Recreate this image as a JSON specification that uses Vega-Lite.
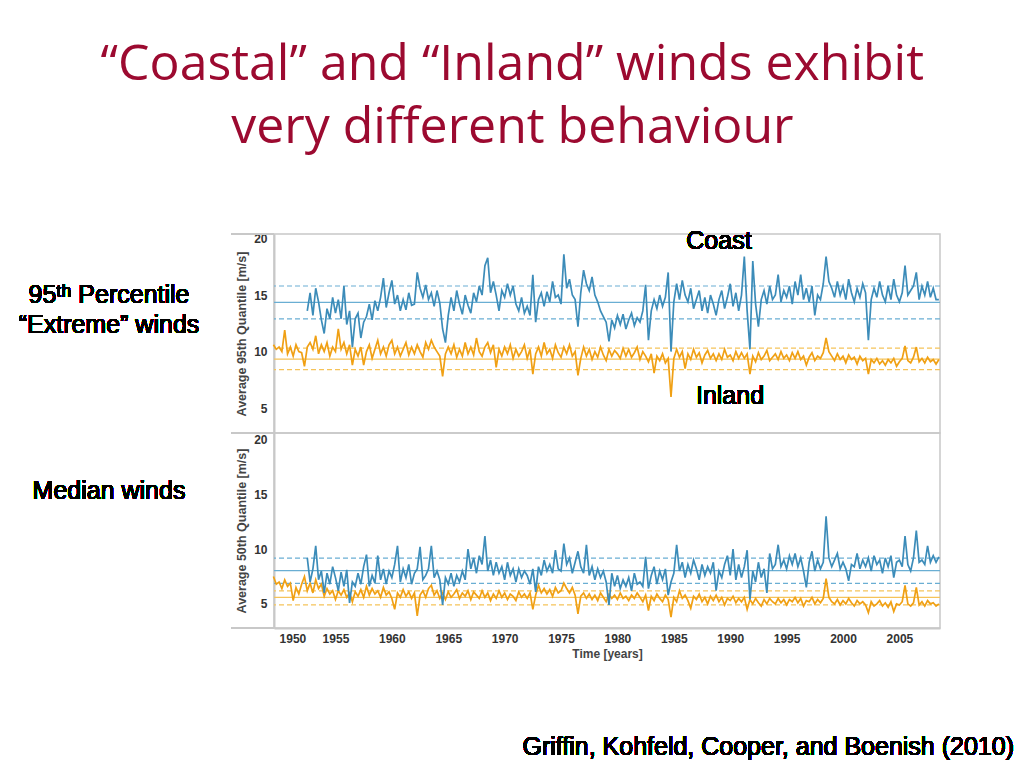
{
"$schema":"https://vega.github.io/schema/vega-lite/v6.json",
"background":"white",
"padding":{"left":17,"top":40,"right":5,"bottom":5},
"title":{"text":["“Coastal” and “Inland” winds exhibit","very different behaviour"],"anchor":"middle","dx":-4,"font":"Open Sans","fontSize":50,"fontWeight":"normal","color":"#9c0a30","lineHeight":63,"offset":75},
"datasets":{
"w":[
{"t":1949.5,"i95":10.6,"i50":7.5},{"t":1949.75,"i95":10.2,"i50":6.8},
{"t":1950,"i95":10.4,"i50":7.0},{"t":1950.25,"i95":10.0,"i50":6.4},{"t":1950.5,"i95":11.9,"i50":7.2},{"t":1950.75,"i95":9.8,"i50":6.6},
{"t":1951,"i95":10.4,"i50":6.9},{"t":1951.25,"i95":9.6,"i50":5.3},{"t":1951.5,"i95":10.6,"i50":6.5},{"t":1951.75,"i95":10.0,"i50":5.9},
{"t":1952,"i95":9.9,"i50":6.8},{"t":1952.25,"i95":8.7,"i50":7.5},
{"t":1952.5,"c95":13.6,"i95":10.4,"c50":9.2,"i50":6.2},{"t":1952.75,"c95":15.2,"i95":10.8,"c50":7.0,"i50":6.9},
{"t":1953,"c95":13.2,"i95":10.2,"c50":8.2,"i50":6.0},{"t":1953.25,"c95":15.6,"i95":11.4,"c50":10.3,"i50":7.2},{"t":1953.5,"c95":14.4,"i95":9.8,"c50":7.2,"i50":6.4},{"t":1953.75,"c95":12.8,"i95":10.6,"c50":8.0,"i50":6.8},
{"t":1954,"c95":11.6,"i95":10.0,"c50":6.0,"i50":5.7},{"t":1954.25,"c95":13.8,"i95":10.8,"c50":7.8,"i50":6.4},{"t":1954.5,"c95":12.9,"i95":9.6,"c50":6.8,"i50":5.9},{"t":1954.75,"c95":14.8,"i95":10.4,"c50":8.4,"i50":6.2},
{"t":1955,"c95":13.4,"i95":10.0,"c50":7.4,"i50":5.4},{"t":1955.25,"c95":14.6,"i95":12.0,"c50":6.2,"i50":6.2},{"t":1955.5,"c95":12.9,"i95":10.2,"c50":7.9,"i50":5.8},{"t":1955.75,"c95":15.8,"i95":10.8,"c50":6.6,"i50":6.3},
{"t":1956,"c95":12.4,"i95":9.8,"c50":8.1,"i50":5.6},{"t":1956.25,"c95":13.6,"i95":10.6,"c50":5.1,"i50":6.0},{"t":1956.5,"c95":10.4,"i95":8.8,"c50":7.0,"i50":5.2},{"t":1956.75,"c95":12.9,"i95":10.2,"c50":6.6,"i50":6.1},
{"t":1957,"c95":13.4,"i95":9.6,"c50":7.8,"i50":5.7},{"t":1957.25,"c95":11.2,"i95":10.4,"c50":6.8,"i50":6.3},{"t":1957.5,"c95":12.6,"i95":8.8,"c50":8.4,"i50":5.6},{"t":1957.75,"c95":13.1,"i95":10.0,"c50":9.5,"i50":6.6},
{"t":1958,"c95":14.2,"i95":10.6,"c50":6.6,"i50":5.8},{"t":1958.25,"c95":12.8,"i95":9.4,"c50":7.6,"i50":6.4},{"t":1958.5,"c95":14.5,"i95":10.2,"c50":6.9,"i50":5.9},{"t":1958.75,"c95":13.6,"i95":11.0,"c50":9.4,"i50":6.2},
{"t":1959,"c95":14.8,"i95":9.8,"c50":7.2,"i50":5.6},{"t":1959.25,"c95":16.5,"i95":10.4,"c50":8.2,"i50":6.5},{"t":1959.5,"c95":13.9,"i95":9.6,"c50":6.8,"i50":5.8},{"t":1959.75,"c95":15.2,"i95":10.6,"c50":8.0,"i50":6.1},
{"t":1960,"c95":16.3,"i95":11.0,"c50":7.4,"i50":5.5},{"t":1960.25,"c95":14.2,"i95":9.8,"c50":8.6,"i50":4.5},{"t":1960.5,"c95":15.0,"i95":10.4,"c50":10.3,"i50":6.0},{"t":1960.75,"c95":13.6,"i95":9.6,"c50":7.0,"i50":5.6},
{"t":1961,"c95":14.6,"i95":10.2,"c50":8.2,"i50":6.3},{"t":1961.25,"c95":13.7,"i95":10.8,"c50":7.4,"i50":5.7},{"t":1961.5,"c95":15.2,"i95":9.7,"c50":8.6,"i50":6.1},{"t":1961.75,"c95":14.1,"i95":10.4,"c50":6.8,"i50":5.5},
{"t":1962,"c95":14.2,"i95":9.8,"c50":7.8,"i50":6.0},{"t":1962.25,"c95":17.0,"i95":10.6,"c50":8.2,"i50":3.9},{"t":1962.5,"c95":15.6,"i95":10.0,"c50":10.2,"i50":5.8},{"t":1962.75,"c95":14.8,"i95":9.5,"c50":7.2,"i50":6.2},
{"t":1963,"c95":15.9,"i95":10.8,"c50":7.6,"i50":5.6},{"t":1963.25,"c95":14.6,"i95":10.2,"c50":8.2,"i50":6.4},{"t":1963.5,"c95":15.2,"i95":11.0,"c50":10.3,"i50":6.7},{"t":1963.75,"c95":14.0,"i95":10.4,"c50":7.4,"i50":5.8},
{"t":1964,"c95":15.4,"i95":10.0,"c50":8.0,"i50":6.2},{"t":1964.25,"c95":14.3,"i95":9.6,"c50":7.2,"i50":5.5},{"t":1964.5,"c95":12.0,"i95":7.8,"c50":4.9,"i50":6.0},{"t":1964.75,"c95":10.8,"i95":9.8,"c50":7.4,"i50":5.4},
{"t":1965,"c95":13.2,"i95":10.4,"c50":6.8,"i50":6.1},{"t":1965.25,"c95":14.8,"i95":9.8,"c50":7.8,"i50":5.6},{"t":1965.5,"c95":13.6,"i95":10.6,"c50":6.6,"i50":5.9},{"t":1965.75,"c95":15.4,"i95":9.5,"c50":7.6,"i50":6.3},
{"t":1966,"c95":14.2,"i95":10.2,"c50":7.0,"i50":5.5},{"t":1966.25,"c95":13.3,"i95":9.6,"c50":8.0,"i50":6.0},{"t":1966.5,"c95":15.0,"i95":10.8,"c50":7.2,"i50":5.7},{"t":1966.75,"c95":14.1,"i95":9.8,"c50":10.0,"i50":6.2},
{"t":1967,"c95":13.4,"i95":10.4,"c50":8.2,"i50":5.4},{"t":1967.25,"c95":15.2,"i95":9.7,"c50":9.2,"i50":6.1},{"t":1967.5,"c95":14.4,"i95":11.2,"c50":7.8,"i50":5.8},{"t":1967.75,"c95":15.8,"i95":10.0,"c50":9.4,"i50":5.5},
{"t":1968,"c95":15.0,"i95":9.6,"c50":8.6,"i50":6.2},{"t":1968.25,"c95":17.6,"i95":10.4,"c50":11.2,"i50":5.6},{"t":1968.5,"c95":18.3,"i95":10.8,"c50":8.0,"i50":6.0},{"t":1968.75,"c95":15.2,"i95":9.9,"c50":9.0,"i50":5.3},
{"t":1969,"c95":16.2,"i95":10.6,"c50":7.6,"i50":5.9},{"t":1969.25,"c95":15.0,"i95":8.6,"c50":8.8,"i50":5.5},{"t":1969.5,"c95":13.6,"i95":10.2,"c50":7.8,"i50":6.2},{"t":1969.75,"c95":15.4,"i95":9.6,"c50":8.4,"i50":5.6},
{"t":1970,"c95":14.8,"i95":10.4,"c50":7.2,"i50":6.0},{"t":1970.25,"c95":16.0,"i95":9.8,"c50":8.8,"i50":5.4},{"t":1970.5,"c95":15.0,"i95":10.6,"c50":7.6,"i50":5.9},{"t":1970.75,"c95":15.8,"i95":9.4,"c50":8.2,"i50":5.7},
{"t":1971,"c95":14.2,"i95":10.2,"c50":7.0,"i50":5.3},{"t":1971.25,"c95":13.6,"i95":9.6,"c50":8.2,"i50":6.1},{"t":1971.5,"c95":14.8,"i95":10.0,"c50":7.4,"i50":5.6},{"t":1971.75,"c95":13.4,"i95":10.6,"c50":8.0,"i50":5.9},
{"t":1972,"c95":14.0,"i95":9.4,"c50":7.6,"i50":5.5},{"t":1972.25,"c95":13.2,"i95":10.2,"c50":6.8,"i50":6.0},{"t":1972.5,"c95":16.8,"i95":8.0,"c50":8.2,"i50":4.5},{"t":1972.75,"c95":12.6,"i95":9.8,"c50":6.1,"i50":5.8},
{"t":1973,"c95":14.6,"i95":10.4,"c50":8.4,"i50":6.7},{"t":1973.25,"c95":15.2,"i95":9.6,"c50":7.6,"i50":6.0},{"t":1973.5,"c95":14.0,"i95":10.8,"c50":9.0,"i50":6.4},{"t":1973.75,"c95":15.3,"i95":9.8,"c50":8.0,"i50":5.9},
{"t":1974,"c95":14.4,"i95":10.2,"c50":8.6,"i50":6.3},{"t":1974.25,"c95":16.2,"i95":9.4,"c50":7.8,"i50":5.7},{"t":1974.5,"c95":14.8,"i95":10.6,"c50":9.9,"i50":6.5},{"t":1974.75,"c95":15.0,"i95":9.9,"c50":8.2,"i50":6.0},
{"t":1975,"c95":14.2,"i95":9.5,"c50":8.0,"i50":6.2},{"t":1975.25,"c95":18.6,"i95":10.4,"c50":10.5,"i50":6.9},{"t":1975.5,"c95":15.6,"i95":9.8,"c50":8.6,"i50":6.4},{"t":1975.75,"c95":16.4,"i95":10.6,"c50":9.2,"i50":6.0},
{"t":1976,"c95":15.0,"i95":9.6,"c50":7.8,"i50":6.5},{"t":1976.25,"c95":14.6,"i95":10.0,"c50":8.8,"i50":5.8},{"t":1976.5,"c95":12.2,"i95":7.9,"c50":9.8,"i50":4.1},{"t":1976.75,"c95":15.2,"i95":9.4,"c50":8.4,"i50":5.7},
{"t":1977,"c95":17.2,"i95":10.4,"c50":7.8,"i50":6.0},{"t":1977.25,"c95":16.0,"i95":9.6,"c50":10.4,"i50":5.5},{"t":1977.5,"c95":15.4,"i95":10.2,"c50":7.6,"i50":5.9},{"t":1977.75,"c95":16.6,"i95":9.3,"c50":8.4,"i50":5.4},
{"t":1978,"c95":15.0,"i95":10.0,"c50":7.2,"i50":5.8},{"t":1978.25,"c95":14.4,"i95":9.5,"c50":8.2,"i50":5.3},{"t":1978.5,"c95":13.6,"i95":10.4,"c50":7.4,"i50":6.0},{"t":1978.75,"c95":13.1,"i95":9.7,"c50":8.0,"i50":5.6},
{"t":1979,"c95":12.6,"i95":9.2,"c50":7.0,"i50":5.2},{"t":1979.25,"c95":10.9,"i95":10.2,"c50":4.9,"i50":5.9},{"t":1979.5,"c95":12.8,"i95":9.6,"c50":7.8,"i50":5.5},{"t":1979.75,"c95":12.1,"i95":10.1,"c50":6.6,"i50":5.8},
{"t":1980,"c95":13.2,"i95":9.8,"c50":7.6,"i50":5.4},{"t":1980.25,"c95":12.4,"i95":9.4,"c50":6.4,"i50":6.0},{"t":1980.5,"c95":13.3,"i95":10.3,"c50":7.2,"i50":5.5},{"t":1980.75,"c95":12.0,"i95":9.6,"c50":6.6,"i50":5.7},
{"t":1981,"c95":12.8,"i95":10.2,"c50":7.4,"i50":5.3},{"t":1981.25,"c95":13.4,"i95":9.5,"c50":6.2,"i50":5.8},{"t":1981.5,"c95":12.3,"i95":9.9,"c50":7.8,"i50":5.5},{"t":1981.75,"c95":13.0,"i95":10.4,"c50":6.8,"i50":6.0},
{"t":1982,"c95":12.6,"i95":9.3,"c50":7.0,"i50":5.6},{"t":1982.25,"c95":13.6,"i95":10.0,"c50":6.6,"i50":5.2},{"t":1982.5,"c95":15.9,"i95":9.6,"c50":9.3,"i50":5.8},{"t":1982.75,"c95":11.0,"i95":9.1,"c50":6.4,"i50":4.4},
{"t":1983,"c95":13.6,"i95":9.8,"c50":7.6,"i50":5.7},{"t":1983.25,"c95":14.6,"i95":8.1,"c50":8.4,"i50":5.3},{"t":1983.5,"c95":13.8,"i95":9.6,"c50":6.8,"i50":5.9},{"t":1983.75,"c95":15.0,"i95":9.2,"c50":8.0,"i50":5.5},
{"t":1984,"c95":14.0,"i95":9.8,"c50":7.2,"i50":5.2},{"t":1984.25,"c95":14.8,"i95":9.0,"c50":8.2,"i50":5.8},{"t":1984.5,"c95":17.0,"i95":9.4,"c50":5.8,"i50":5.4},{"t":1984.75,"c95":10.0,"i95":6.0,"c50":7.0,"i50":3.8},
{"t":1985,"c95":14.4,"i95":9.4,"c50":7.8,"i50":5.6},{"t":1985.25,"c95":16.0,"i95":10.2,"c50":10.4,"i50":5.2},{"t":1985.5,"c95":14.6,"i95":9.5,"c50":8.0,"i50":6.2},{"t":1985.75,"c95":16.3,"i95":10.0,"c50":8.8,"i50":5.5},
{"t":1986,"c95":15.0,"i95":8.5,"c50":7.4,"i50":5.8},{"t":1986.25,"c95":14.4,"i95":9.8,"c50":8.6,"i50":5.3},{"t":1986.5,"c95":15.6,"i95":9.3,"c50":7.8,"i50":4.6},{"t":1986.75,"c95":13.8,"i95":10.2,"c50":9.0,"i50":5.7},
{"t":1987,"c95":14.6,"i95":9.5,"c50":8.2,"i50":5.4},{"t":1987.25,"c95":15.4,"i95":9.9,"c50":7.2,"i50":5.9},{"t":1987.5,"c95":13.6,"i95":9.0,"c50":8.6,"i50":5.2},{"t":1987.75,"c95":14.8,"i95":9.7,"c50":7.6,"i50":5.6},
{"t":1988,"c95":13.4,"i95":10.1,"c50":8.4,"i50":5.0},{"t":1988.25,"c95":15.0,"i95":9.4,"c50":7.8,"i50":5.7},{"t":1988.5,"c95":14.2,"i95":9.8,"c50":8.8,"i50":5.3},{"t":1988.75,"c95":13.2,"i95":9.2,"c50":6.2,"i50":5.8},
{"t":1989,"c95":14.6,"i95":9.8,"c50":8.0,"i50":5.2},{"t":1989.25,"c95":15.4,"i95":9.3,"c50":7.4,"i50":5.6},{"t":1989.5,"c95":13.8,"i95":10.2,"c50":8.6,"i50":4.9},{"t":1989.75,"c95":14.8,"i95":9.5,"c50":9.4,"i50":5.5},
{"t":1990,"c95":16.0,"i95":9.7,"c50":7.6,"i50":5.3},{"t":1990.25,"c95":14.0,"i95":9.2,"c50":10.0,"i50":5.7},{"t":1990.5,"c95":15.2,"i95":10.0,"c50":7.2,"i50":5.1},{"t":1990.75,"c95":13.6,"i95":9.4,"c50":8.6,"i50":5.5},
{"t":1991,"c95":15.0,"i95":9.9,"c50":7.4,"i50":5.2},{"t":1991.25,"c95":18.4,"i95":9.4,"c50":8.4,"i50":5.6},{"t":1991.5,"c95":13.6,"i95":9.8,"c50":9.9,"i50":4.5},{"t":1991.75,"c95":10.2,"i95":8.0,"c50":5.4,"i50":5.4},
{"t":1992,"c95":18.0,"i95":9.6,"c50":8.0,"i50":5.0},{"t":1992.25,"c95":14.2,"i95":9.1,"c50":7.0,"i50":5.5},{"t":1992.5,"c95":12.2,"i95":9.9,"c50":8.8,"i50":5.1},{"t":1992.75,"c95":14.6,"i95":9.3,"c50":7.4,"i50":4.8},
{"t":1993,"c95":15.4,"i95":9.6,"c50":8.2,"i50":5.4},{"t":1993.25,"c95":14.2,"i95":10.1,"c50":6.0,"i50":5.0},{"t":1993.5,"c95":15.8,"i95":9.2,"c50":9.6,"i50":5.5},{"t":1993.75,"c95":14.6,"i95":9.5,"c50":8.2,"i50":5.2},
{"t":1994,"c95":15.0,"i95":9.8,"c50":8.6,"i50":5.0},{"t":1994.25,"c95":16.8,"i95":9.3,"c50":10.4,"i50":5.5},{"t":1994.5,"c95":14.4,"i95":10.0,"c50":8.4,"i50":5.1},{"t":1994.75,"c95":15.4,"i95":9.4,"c50":9.0,"i50":5.4},
{"t":1995,"c95":14.8,"i95":9.7,"c50":8.2,"i50":4.9},{"t":1995.25,"c95":15.8,"i95":9.2,"c50":9.4,"i50":5.4},{"t":1995.5,"c95":14.2,"i95":9.9,"c50":8.6,"i50":5.2},{"t":1995.75,"c95":16.2,"i95":9.4,"c50":9.6,"i50":5.6},
{"t":1996,"c95":15.0,"i95":10.0,"c50":8.4,"i50":5.1},{"t":1996.25,"c95":16.8,"i95":9.3,"c50":9.2,"i50":5.5},{"t":1996.5,"c95":14.6,"i95":9.6,"c50":8.0,"i50":4.8},{"t":1996.75,"c95":15.6,"i95":8.8,"c50":6.5,"i50":5.3},
{"t":1997,"c95":14.4,"i95":9.5,"c50":8.8,"i50":5.2},{"t":1997.25,"c95":15.8,"i95":9.9,"c50":9.8,"i50":5.6},{"t":1997.5,"c95":13.2,"i95":9.2,"c50":8.0,"i50":5.0},{"t":1997.75,"c95":15.0,"i95":9.6,"c50":9.0,"i50":5.4},
{"t":1998,"c95":14.6,"i95":9.4,"c50":8.2,"i50":5.1},{"t":1998.25,"c95":16.0,"i95":9.9,"c50":8.8,"i50":5.5},{"t":1998.5,"c95":18.4,"i95":11.2,"c50":13.0,"i50":7.3},{"t":1998.75,"c95":16.2,"i95":10.0,"c50":9.2,"i50":5.6},
{"t":1999,"c95":15.6,"i95":9.6,"c50":8.4,"i50":5.2},{"t":1999.25,"c95":14.8,"i95":9.2,"c50":9.0,"i50":5.0},{"t":1999.5,"c95":16.2,"i95":9.8,"c50":9.6,"i50":5.4},{"t":1999.75,"c95":15.0,"i95":9.3,"c50":8.2,"i50":4.9},
{"t":2000,"c95":15.8,"i95":9.6,"c50":8.8,"i50":5.3},{"t":2000.25,"c95":14.6,"i95":9.0,"c50":8.2,"i50":5.0},{"t":2000.5,"c95":16.4,"i95":9.7,"c50":7.1,"i50":5.5},{"t":2000.75,"c95":15.2,"i95":9.3,"c50":8.6,"i50":5.1},
{"t":2001,"c95":14.4,"i95":9.5,"c50":8.4,"i50":4.8},{"t":2001.25,"c95":15.6,"i95":8.9,"c50":9.6,"i50":5.3},{"t":2001.5,"c95":14.8,"i95":9.6,"c50":8.2,"i50":5.0},{"t":2001.75,"c95":16.0,"i95":9.2,"c50":9.0,"i50":5.2},
{"t":2002,"c95":15.2,"i95":9.4,"c50":8.4,"i50":4.9},{"t":2002.25,"c95":11.0,"i95":8.0,"c50":9.2,"i50":4.2},{"t":2002.5,"c95":14.6,"i95":9.3,"c50":8.0,"i50":5.2},{"t":2002.75,"c95":15.6,"i95":9.0,"c50":9.4,"i50":4.8},
{"t":2003,"c95":14.8,"i95":9.4,"c50":8.6,"i50":5.0},{"t":2003.25,"c95":16.2,"i95":8.9,"c50":9.0,"i50":5.3},{"t":2003.5,"c95":15.0,"i95":9.2,"c50":7.8,"i50":4.8},{"t":2003.75,"c95":14.4,"i95":8.8,"c50":9.2,"i50":5.1},
{"t":2004,"c95":15.8,"i95":9.3,"c50":8.4,"i50":4.7},{"t":2004.25,"c95":14.6,"i95":9.0,"c50":9.4,"i50":5.2},{"t":2004.5,"c95":16.4,"i95":9.4,"c50":7.4,"i50":4.3},{"t":2004.75,"c95":15.0,"i95":8.7,"c50":8.8,"i50":5.0},
{"t":2005,"c95":14.4,"i95":9.1,"c50":9.0,"i50":4.9},{"t":2005.25,"c95":15.2,"i95":9.4,"c50":8.4,"i50":5.2},{"t":2005.5,"c95":17.6,"i95":10.5,"c50":11.2,"i50":6.7},{"t":2005.75,"c95":15.0,"i95":9.2,"c50":8.6,"i50":5.0},
{"t":2006,"c95":15.4,"i95":9.0,"c50":8.0,"i50":4.8},{"t":2006.25,"c95":15.8,"i95":9.5,"c50":9.2,"i50":5.1},{"t":2006.5,"c95":17.0,"i95":10.4,"c50":11.7,"i50":6.5},{"t":2006.75,"c95":14.6,"i95":9.1,"c50":8.8,"i50":4.9},
{"t":2007,"c95":15.8,"i95":9.4,"c50":9.0,"i50":5.2},{"t":2007.25,"c95":15.0,"i95":9.0,"c50":8.6,"i50":4.8},{"t":2007.5,"c95":16.2,"i95":9.5,"c50":10.3,"i50":5.3},{"t":2007.75,"c95":14.8,"i95":9.1,"c50":8.8,"i50":5.0},
{"t":2008,"c95":15.6,"i95":9.3,"c50":9.4,"i50":5.1},{"t":2008.25,"c95":14.6,"i95":8.9,"c50":8.8,"i50":4.8},{"t":2008.5,"c95":14.6,"i95":9.3,"c50":9.3,"i50":5.0}
],
"r95":[
{"s":"Coast","k":"sd","v":15.8},{"s":"Coast","k":"mean","v":14.36},{"s":"Coast","k":"sd","v":12.9},
{"s":"Inland","k":"sd","v":10.3},{"s":"Inland","k":"mean","v":9.33},{"s":"Inland","k":"sd","v":8.4}
],
"r50":[
{"s":"Coast","k":"sd","v":9.17},{"s":"Coast","k":"mean","v":8.03},{"s":"Coast","k":"sd","v":6.87},
{"s":"Inland","k":"sd","v":6.18},{"s":"Inland","k":"mean","v":5.59},{"s":"Inland","k":"sd","v":4.92}
]
},
"spacing":0,
"bounds":"flush",
"vconcat":[
{
"width":666,"height":199,
"data":{"name":"w"},
"layer":[
{"data":{"name":"r95"},"mark":{"type":"rule","strokeWidth":1.2},
 "encoding":{"y":{"field":"v","type":"quantitative","scale":{"domain":[2.8,20.4],"nice":false,"zero":false}},
 "color":{"field":"s","type":"nominal","scale":{"domain":["Coast","Inland"],"range":["#6aaed3","#f5c35a"]},"legend":null},
 "strokeDash":{"field":"k","type":"nominal","scale":{"domain":["mean","sd"],"range":[[1,0],[5,3]]},"legend":null}}},
{"mark":{"type":"line","color":"#f0a014","strokeWidth":1.7},
 "encoding":{"x":{"field":"t","type":"quantitative","scale":{"domain":[1949.55,2008.6],"nice":false,"zero":false},"axis":null},
 "y":{"field":"i95","type":"quantitative","scale":{"domain":[2.8,20.4],"nice":false,"zero":false},"axis":{"values":[5,10,15,20],"title":"Average 95th Quantile [m/s]"}}}},
{"mark":{"type":"line","color":"#3c8cb9","strokeWidth":1.7},
 "encoding":{"x":{"field":"t","type":"quantitative","axis":null},
 "y":{"field":"c95","type":"quantitative","axis":{"values":[5,10,15,20],"title":"Average 95th Quantile [m/s]"}}}},
{"mark":{"type":"rule","color":"#c8c8c8","strokeWidth":2},
 "encoding":{"x":{"datum":1945.75,"type":"quantitative","axis":null},"x2":{"datum":1949.55},"y":{"datum":20.4,"type":"quantitative"}}},
{"mark":{"type":"rule","color":"#c8c8c8","strokeWidth":2},
 "encoding":{"x":{"datum":1945.75,"type":"quantitative","axis":null},"x2":{"datum":1949.55},"y":{"datum":2.8,"type":"quantitative"}}},
{"mark":{"type":"text","text":"Coast","font":"Liberation Sans","fontSize":25,"align":"center","baseline":"middle","fill":"#000000"},
 "encoding":{"x":{"datum":1989.0,"type":"quantitative","axis":null},"y":{"datum":19.78,"type":"quantitative"}}},
{"mark":{"type":"text","text":"Inland","font":"Liberation Sans","fontSize":25,"align":"center","baseline":"middle","fill":"#000000"},
 "encoding":{"x":{"datum":1989.98,"type":"quantitative","axis":null},"y":{"datum":6.07,"type":"quantitative"}}},
{"mark":{"type":"text","text":"95ᵗʰ Percentile","font":"Liberation Sans","fontSize":25,"align":"center","baseline":"middle","fill":"#000000"},
 "encoding":{"x":{"datum":1934.92,"type":"quantitative","axis":null},"y":{"datum":15.0,"type":"quantitative"}}},
{"mark":{"type":"text","text":"“Extreme” winds","font":"Liberation Sans","fontSize":25,"align":"center","baseline":"middle","fill":"#000000"},
 "encoding":{"x":{"datum":1934.92,"type":"quantitative","axis":null},"y":{"datum":12.35,"type":"quantitative"}}}
]
},
{
"width":666,"height":195,
"data":{"name":"w"},
"layer":[
{"data":{"name":"r50"},"mark":{"type":"rule","strokeWidth":1.2},
 "encoding":{"y":{"field":"v","type":"quantitative","scale":{"domain":[2.8,20.6],"nice":false,"zero":false}},
 "color":{"field":"s","type":"nominal","scale":{"domain":["Coast","Inland"],"range":["#6aaed3","#f5c35a"]},"legend":null},
 "strokeDash":{"field":"k","type":"nominal","scale":{"domain":["mean","sd"],"range":[[1,0],[5,3]]},"legend":null}}},
{"mark":{"type":"line","color":"#f0a014","strokeWidth":1.7},
 "encoding":{"x":{"field":"t","type":"quantitative","scale":{"domain":[1949.55,2008.6],"nice":false,"zero":false},
   "axis":{"values":[1950,1955,1960,1965,1970,1975,1980,1985,1990,1995,2000,2005],"format":"d","labelOverlap":false,"labelFlush":8,"labelPadding":5,"titlePadding":4,"titleFontSize":12,"title":"Time [years]"}},
 "y":{"field":"i50","type":"quantitative","scale":{"domain":[2.8,20.6],"nice":false,"zero":false},"axis":{"values":[5,10,15,20],"title":"Average 50th Quantile [m/s]"}}}},
{"mark":{"type":"line","color":"#3c8cb9","strokeWidth":1.7},
 "encoding":{"x":{"field":"t","type":"quantitative","axis":{"values":[1950,1955,1960,1965,1970,1975,1980,1985,1990,1995,2000,2005],"format":"d","labelOverlap":false,"labelFlush":8,"labelPadding":5,"titlePadding":4,"titleFontSize":12,"title":"Time [years]"}},
 "y":{"field":"c50","type":"quantitative","axis":{"values":[5,10,15,20],"title":"Average 50th Quantile [m/s]"}}}},
{"mark":{"type":"rule","color":"#c8c8c8","strokeWidth":2},
 "encoding":{"x":{"datum":1945.75,"type":"quantitative"},"x2":{"datum":1949.55},"y":{"datum":2.8,"type":"quantitative"}}},
{"mark":{"type":"text","text":"Median winds","font":"Liberation Sans","fontSize":25,"align":"center","baseline":"middle","fill":"#000000"},
 "encoding":{"x":{"datum":1934.92,"type":"quantitative"},"y":{"datum":15.35,"type":"quantitative"}}},
{"mark":{"type":"text","text":"Griffin, Kohfeld, Cooper, and Boenish (2010)","font":"Liberation Sans","fontSize":25,"align":"right","baseline":"middle","fill":"#000000"},
 "encoding":{"x":{"datum":2015.16,"type":"quantitative"},"y":{"datum":-8.06,"type":"quantitative"}}}
]
}
],
"config":{
"font":"Liberation Sans",
"view":{"stroke":"#c8c8c8","strokeWidth":1.5},
"axis":{"labelFont":"Liberation Sans","labelFontWeight":"bold","labelFontSize":12,"labelColor":"#333333","titleFont":"Liberation Sans","titleFontWeight":"bold","titleFontSize":12.5,"titleColor":"#444444","domainColor":"#c8c8c8","domainWidth":2,"grid":false,"ticks":false,"labelPadding":7,"titlePadding":5}
}
}
